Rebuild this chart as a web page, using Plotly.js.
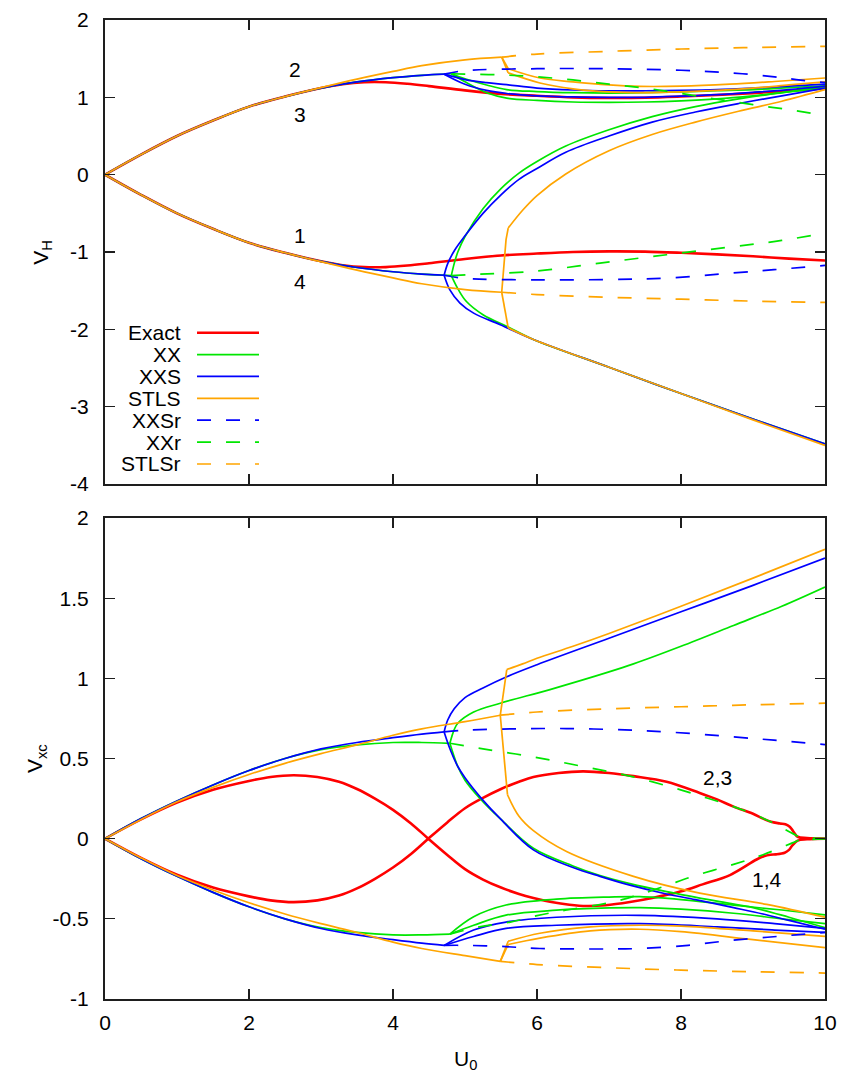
<!DOCTYPE html>
<html>
<head>
<meta charset="utf-8">
<script src="https://cdn.plot.ly/plotly-3.0.1.min.js"></script>
<style>html,body{margin:0;padding:0;background:#fff}</style>
</head>
<body>
<div id="chart" style="width:849px;height:1076px"></div>
<script>
// ---------- tick positions and labels ----------
const X_TICKS = [0, 2, 4, 6, 8, 10];
const X_TICK_TEXT = ['0', '2', '4', '6', '8', '10'];
const VH_TICKS = [-4, -3, -2, -1, 0, 1, 2];
const VH_TICK_TEXT = ['-4', '-3', '-2', '-1', '0', '1', '2'];
const VXC_TICKS = [-1, -0.5, 0, 0.5, 1, 1.5, 2];
const VXC_TICK_TEXT = ['-1', '-0.5', '0', '0.5', '1', '1.5', '2'];

// ---------- Hartree potential V_H ----------
const vhExactU  = [0,0.5,1,1.5,2,2.5,3,3.3,3.6,3.9,4.2,4.5,5,5.5,6,6.5,7,7.5,8,8.5,9,9.5,10];
const vhExactHi = [0,0.26,0.50,0.70,0.88,1.01,1.12,1.17,1.195,1.195,1.175,1.145,1.09,1.045,1.02,1.0,0.992,0.995,1.01,1.03,1.055,1.085,1.115];
const vhExactLo = [0,-0.26,-0.50,-0.70,-0.88,-1.01,-1.12,-1.17,-1.195,-1.195,-1.175,-1.145,-1.09,-1.045,-1.02,-1.0,-0.992,-0.995,-1.01,-1.03,-1.055,-1.085,-1.11];

const vhXXPreU  = [0,0.5,1,1.5,2,2.5,3,3.5,4,4.4,4.81];
const vhXXPreHi = [0,0.26,0.50,0.70,0.88,1.01,1.12,1.20,1.255,1.285,1.305];
const vhXXPreLo = [0,-0.26,-0.50,-0.70,-0.88,-1.01,-1.12,-1.20,-1.255,-1.285,-1.305];
const vhXXAU = [4.81,5.0,5.3,5.58,6,6.5,7,7.5,8,8.5,9,9.5,10];
const vhXXAV = [1.305,1.24,1.16,1.10,1.075,1.06,1.055,1.06,1.07,1.085,1.10,1.125,1.15];
const vhXXBU = [4.81,5.0,5.3,5.58,6,6.5,7,7.5,8,8.5,9,9.5,10];
const vhXXBV = [1.305,1.20,1.06,0.99,0.96,0.94,0.935,0.94,0.955,0.98,1.02,1.07,1.12];
const vhXXCU = [4.81,4.85,4.9,5.0,5.25,5.5,5.75,6.0,6.4,7.0,7.6,8.2,8.8,9.4,10];
const vhXXCV = [-1.305,-1.15,-1.0,-0.80,-0.44,-0.18,0.02,0.17,0.37,0.58,0.75,0.88,0.98,1.06,1.14];
const vhXXDU = [4.81,4.91,5.02,5.25,5.6,5.95,7,8,9,10];
const vhXXDV = [-1.305,-1.49,-1.64,-1.81,-1.97,-2.13,-2.49,-2.83,-3.16,-3.48];

const vhXXSPreU  = [0,0.5,1,1.5,2,2.5,3,3.5,4,4.4,4.71];
const vhXXSPreHi = [0,0.26,0.50,0.70,0.88,1.01,1.12,1.20,1.255,1.285,1.30];
const vhXXSPreLo = [0,-0.26,-0.50,-0.70,-0.88,-1.01,-1.12,-1.20,-1.255,-1.285,-1.30];
const vhXXSAU = [4.71,5.0,5.3,5.58,6,6.5,7,7.5,8,8.5,9,9.5,10];
const vhXXSAV = [1.30,1.23,1.19,1.164,1.12,1.095,1.085,1.085,1.09,1.10,1.12,1.145,1.17];
const vhXXSBU = [4.71,5.0,5.3,5.58,6,6.5,7,7.5,8,8.5,9,9.5,10];
const vhXXSBV = [1.30,1.17,1.09,1.05,1.02,1.005,1.0,1.0,1.015,1.035,1.065,1.10,1.145];
const vhXXSCU = [4.71,4.76,4.86,5.0,5.25,5.5,5.75,6.0,6.4,7.0,7.6,8.2,8.8,9.4,10];
const vhXXSCV = [-1.30,-1.15,-0.97,-0.79,-0.50,-0.26,-0.06,0.08,0.29,0.50,0.68,0.81,0.92,1.02,1.12];
const vhXXSDU = [4.71,4.79,4.93,5.12,5.49,5.95,7,8,9,10];
const vhXXSDV = [-1.30,-1.49,-1.66,-1.79,-1.94,-2.13,-2.49,-2.83,-3.16,-3.48];

const vhSTLSPreU  = [0,0.5,1,1.5,2,2.5,3,3.5,4,4.4,5,5.51];
const vhSTLSPreHi = [0,0.26,0.50,0.70,0.88,1.01,1.125,1.235,1.335,1.41,1.485,1.52];
const vhSTLSPreLo = [0,-0.26,-0.50,-0.70,-0.88,-1.01,-1.125,-1.235,-1.335,-1.41,-1.485,-1.52];
const vhSTLSAU = [5.51,5.60,6.04,6.5,7,7.43,8,8.68,9.3,10];
const vhSTLSAV = [1.52,1.37,1.25,1.20,1.16,1.142,1.145,1.17,1.205,1.25];
const vhSTLSBU = [5.51,5.60,6.04,6.5,7,7.5,8,8.5,9,9.5,10];
const vhSTLSBV = [1.52,1.316,1.186,1.11,1.07,1.06,1.07,1.09,1.12,1.16,1.20];
const vhSTLSCU = [5.51,5.57,5.60,5.8,6.0,6.4,7.0,7.6,8.2,8.8,9.4,10];
const vhSTLSCV = [-1.52,-0.84,-0.69,-0.46,-0.27,0.01,0.31,0.52,0.68,0.82,0.95,1.10];
const vhSTLSDU = [5.51,5.60,5.95,7,8,9,10];
const vhSTLSDV = [-1.52,-1.98,-2.13,-2.49,-2.83,-3.17,-3.50];

const vhXXSrHiU = [4.71,5,6,7,8,8.7,9.3,9.6,10];
const vhXXSrHiV = [1.30,1.345,1.37,1.37,1.35,1.316,1.265,1.23,1.19];
const vhXXSrLoU = [4.71,5,6,7,7.8,8.73,9.4,10];
const vhXXSrLoV = [-1.30,-1.34,-1.36,-1.355,-1.337,-1.27,-1.22,-1.173];
const vhXXrHiU = [4.81,5,5.5,6,6.5,7,7.5,8,8.5,9,9.5,10];
const vhXXrHiV = [1.305,1.30,1.29,1.265,1.225,1.17,1.12,1.05,0.975,0.905,0.84,0.765];
const vhXXrLoU = [4.81,5.02,5.95,6.875,7.8,8.73,9.4,10];
const vhXXrLoV = [-1.305,-1.294,-1.25,-1.143,-1.035,-0.93,-0.85,-0.755];
const vhSTLSrU  = [5.51,6,7,8,9,10];
const vhSTLSrHi = [1.52,1.56,1.595,1.625,1.645,1.66];
const vhSTLSrLo = [-1.52,-1.55,-1.585,-1.61,-1.635,-1.652];

// ---------- exchange-correlation potential V_xc ----------
const vxcExactPU = [0,0.5,1,1.5,2,2.3,2.62,2.95,3.25,3.5,3.75,4,4.25,4.49,4.75,5,5.25,5.5,5.75,5.95,6.2,6.45,6.69,6.95,7.29,7.6,7.99,8.3,8.68,9.05,9.15,9.24,9.32,9.44,9.5,9.55,9.62,9.75,10];
const vxcExactPV = [0,0.12,0.225,0.305,0.36,0.385,0.396,0.385,0.355,0.31,0.25,0.18,0.095,0,-0.10,-0.19,-0.255,-0.305,-0.345,-0.37,-0.395,-0.412,-0.42,-0.415,-0.395,-0.37,-0.33,-0.285,-0.227,-0.13,-0.11,-0.10,-0.098,-0.088,-0.07,-0.04,-0.012,-0.004,0];
const vxcExactQU = [0,0.5,1,1.5,2,2.3,2.62,2.95,3.25,3.5,3.75,4,4.25,4.49,4.75,5,5.23,5.5,5.75,5.95,6.3,6.64,7,7.34,7.8,8.26,8.5,8.73,9.0,9.14,9.25,9.375,9.45,9.51,9.56,9.62,9.75,10];
const vxcExactQV = [0,-0.12,-0.225,-0.305,-0.36,-0.385,-0.396,-0.385,-0.355,-0.31,-0.25,-0.18,-0.095,0,0.10,0.19,0.25,0.31,0.355,0.385,0.41,0.42,0.41,0.39,0.355,0.285,0.245,0.20,0.155,0.125,0.105,0.095,0.09,0.075,0.045,0.012,0.004,0];

const vxcXXPreU  = [0,0.5,1,1.5,2,2.5,3,3.5,4,4.4,4.79];
const vxcXXPreHi = [0,0.125,0.235,0.335,0.425,0.50,0.555,0.585,0.60,0.60,0.595];
const vxcXXPreLo = [0,-0.125,-0.235,-0.335,-0.425,-0.50,-0.555,-0.585,-0.60,-0.60,-0.595];
const vxcXXAU = [4.79,4.85,4.9,5.12,5.49,6.18,7,7.34,8,8.73,9.4,10];
const vxcXXAV = [0.595,0.68,0.72,0.79,0.845,0.93,1.04,1.09,1.20,1.33,1.45,1.57];
const vxcXXBU = [4.79,4.9,5.0,5.21,5.5,5.95,6.5,6.875,7.29,7.8,8.5,9,9.5,10];
const vxcXXBV = [0.595,0.45,0.365,0.25,0.12,-0.06,-0.17,-0.23,-0.28,-0.33,-0.39,-0.43,-0.49,-0.555];
const vxcXXCU = [4.79,5.12,5.57,6.27,7.0,7.43,8.0,8.73,9.4,10];
const vxcXXCV = [-0.595,-0.487,-0.414,-0.377,-0.364,-0.362,-0.38,-0.415,-0.445,-0.475];
const vxcXXDU = [4.79,5.12,5.57,6.27,7.0,7.43,8.0,8.73,9.4,10];
const vxcXXDV = [-0.595,-0.54,-0.477,-0.446,-0.432,-0.43,-0.44,-0.465,-0.50,-0.53];

const vxcXXSPreU  = [0,0.5,1,1.5,2,2.5,3,3.5,4,4.4,4.71];
const vxcXXSPreHi = [0,0.125,0.235,0.335,0.425,0.50,0.56,0.60,0.63,0.652,0.666];
const vxcXXSPreLo = [0,-0.125,-0.235,-0.335,-0.425,-0.50,-0.56,-0.60,-0.63,-0.652,-0.666];
const vxcXXSAU = [4.71,4.76,4.85,5.0,5.25,5.58,6,7,8,9,10];
const vxcXXSAV = [0.666,0.74,0.81,0.88,0.94,1.01,1.085,1.25,1.415,1.58,1.75];
const vxcXXSBU = [4.71,4.8,4.9,5.0,5.23,5.5,5.95,6.5,6.875,7.29,7.8,8.2,8.73,9.14,9.5,10];
const vxcXXSBV = [0.666,0.55,0.45,0.38,0.25,0.12,-0.07,-0.18,-0.235,-0.29,-0.345,-0.38,-0.43,-0.47,-0.51,-0.565];
const vxcXXSCU = [4.71,5.12,5.57,6.27,7.43,8.5,9.3,10];
const vxcXXSCV = [-0.666,-0.57,-0.52,-0.49,-0.478,-0.50,-0.53,-0.56];
const vxcXXSDU = [4.71,5.12,5.57,6.27,7.43,8.5,9.3,10];
const vxcXXSDV = [-0.666,-0.61,-0.56,-0.54,-0.53,-0.55,-0.57,-0.585];

const vxcSTLSPreU  = [0,0.5,1,1.5,2,2.5,3,3.5,4,4.4,5,5.49];
const vxcSTLSPreHi = [0,0.12,0.23,0.32,0.40,0.47,0.53,0.585,0.645,0.685,0.73,0.77];
const vxcSTLSPreLo = [0,-0.12,-0.23,-0.32,-0.40,-0.47,-0.53,-0.585,-0.645,-0.685,-0.73,-0.765];
const vxcSTLSAU = [5.49,5.58,5.8,6,6.5,7,8,9,10];
const vxcSTLSAV = [0.77,1.055,1.09,1.125,1.20,1.28,1.45,1.625,1.805];
const vxcSTLSBU = [5.49,5.59,5.75,5.95,6.41,7.34,8.26,9.19,10];
const vxcSTLSBV = [0.77,0.274,0.14,0.05,-0.08,-0.235,-0.34,-0.41,-0.49];
const vxcSTLSCU = [5.49,5.6,6.04,6.74,7.43,8,9,10];
const vxcSTLSCV = [-0.765,-0.64,-0.59,-0.55,-0.54,-0.545,-0.575,-0.61];
const vxcSTLSDU = [5.49,5.6,6.04,6.74,7.43,8,9,10];
const vxcSTLSDV = [-0.765,-0.66,-0.62,-0.575,-0.565,-0.58,-0.63,-0.68];

const vxcXXSrHiU = [4.71,5.02,5.7,6.41,7.1,7.8,8.73,9.4,10];
const vxcXXSrHiV = [0.666,0.677,0.685,0.687,0.68,0.666,0.635,0.61,0.587];
const vxcXXSrLoU = [4.71,4.93,5.5,6.04,6.8,7.43,8.1,8.68,9.2,9.6,10];
const vxcXXSrLoV = [-0.666,-0.665,-0.672,-0.685,-0.688,-0.685,-0.665,-0.635,-0.615,-0.60,-0.585];
const vxcXXrHiU = [4.79,5.25,5.95,6.64,7.34,8.03,8.35,8.73,9.2,9.56,9.7,10];
const vxcXXrHiV = [0.595,0.56,0.51,0.45,0.385,0.30,0.255,0.20,0.115,0.03,0,0];
const vxcXXrLoU = [4.79,5.2,5.63,6,6.41,7,7.34,7.75,8.2,8.73,9.14,9.6,9.7,10];
const vxcXXrLoV = [-0.595,-0.55,-0.52,-0.48,-0.445,-0.40,-0.36,-0.30,-0.23,-0.16,-0.10,-0.017,0,0];
const vxcSTLSrU  = [5.49,6,7,8,9,10];
const vxcSTLSrHi = [0.77,0.79,0.81,0.823,0.835,0.845];
const vxcSTLSrLo = [-0.765,-0.785,-0.805,-0.82,-0.83,-0.838];

// ---------- styles ----------
const STYLE = {
  Exact: {color: '#ff0000', width: 2.6, dash: 'solid'},
  XX:    {color: '#00e600', width: 1.7, dash: 'solid'},
  XXS:   {color: '#0000ff', width: 1.7, dash: 'solid'},
  STLS:  {color: '#ffa500', width: 1.7, dash: 'solid'},
  XXSr:  {color: '#0000ff', width: 1.7, dash: '14px,15px'},
  XXr:   {color: '#00e600', width: 1.7, dash: '14px,15px'},
  STLSr: {color: '#ffa500', width: 1.7, dash: '14px,15px'}
};
const LEGEND_ORDER = ['Exact', 'XX', 'XXS', 'STLS', 'XXSr', 'XXr', 'STLSr'];

function lineTrace(u, v, method, panel, shape) {
  const s = STYLE[method];
  return {
    type: 'scatter', mode: 'lines', x: u, y: v,
    xaxis: panel === 1 ? 'x' : 'x2', yaxis: panel === 1 ? 'y' : 'y2',
    line: {color: s.color, width: s.width, dash: s.dash, shape: shape, smoothing: 1},
    hoverinfo: 'skip', showlegend: false
  };
}

// A branch is smooth apart from an optional abrupt jump over its first `jump` steps,
// which is drawn straight so the smoothing does not round it off.
const traces = [];
function curve(u, v, method, panel, jump) {
  if (jump) {
    traces.push(lineTrace(u.slice(0, jump + 1), v.slice(0, jump + 1), method, panel, 'linear'));
    traces.push(lineTrace(u.slice(jump), v.slice(jump), method, panel, 'spline'));
  } else {
    traces.push(lineTrace(u, v, method, panel, 'spline'));
  }
}

// V_H panel
curve(vhExactU, vhExactHi, 'Exact', 1);
curve(vhExactU, vhExactLo, 'Exact', 1);
curve(vhXXPreU, vhXXPreHi, 'XX', 1);
curve(vhXXPreU, vhXXPreLo, 'XX', 1);
curve(vhXXAU, vhXXAV, 'XX', 1);
curve(vhXXBU, vhXXBV, 'XX', 1);
curve(vhXXCU, vhXXCV, 'XX', 1);
curve(vhXXDU, vhXXDV, 'XX', 1);
curve(vhXXSPreU, vhXXSPreHi, 'XXS', 1);
curve(vhXXSPreU, vhXXSPreLo, 'XXS', 1);
curve(vhXXSAU, vhXXSAV, 'XXS', 1);
curve(vhXXSBU, vhXXSBV, 'XXS', 1);
curve(vhXXSCU, vhXXSCV, 'XXS', 1);
curve(vhXXSDU, vhXXSDV, 'XXS', 1);
curve(vhSTLSPreU, vhSTLSPreHi, 'STLS', 1);
curve(vhSTLSPreU, vhSTLSPreLo, 'STLS', 1);
curve(vhSTLSAU, vhSTLSAV, 'STLS', 1, 1);
curve(vhSTLSBU, vhSTLSBV, 'STLS', 1, 1);
curve(vhSTLSCU, vhSTLSCV, 'STLS', 1, 2);
curve(vhSTLSDU, vhSTLSDV, 'STLS', 1, 1);
curve(vhXXSrHiU, vhXXSrHiV, 'XXSr', 1);
curve(vhXXSrLoU, vhXXSrLoV, 'XXSr', 1);
curve(vhXXrHiU, vhXXrHiV, 'XXr', 1);
curve(vhXXrLoU, vhXXrLoV, 'XXr', 1);
curve(vhSTLSrU, vhSTLSrHi, 'STLSr', 1);
curve(vhSTLSrU, vhSTLSrLo, 'STLSr', 1);
// V_xc panel
curve(vxcExactPU, vxcExactPV, 'Exact', 2);
curve(vxcExactQU, vxcExactQV, 'Exact', 2);
curve(vxcXXPreU, vxcXXPreHi, 'XX', 2);
curve(vxcXXPreU, vxcXXPreLo, 'XX', 2);
curve(vxcXXAU, vxcXXAV, 'XX', 2);
curve(vxcXXBU, vxcXXBV, 'XX', 2);
curve(vxcXXCU, vxcXXCV, 'XX', 2);
curve(vxcXXDU, vxcXXDV, 'XX', 2);
curve(vxcXXSPreU, vxcXXSPreHi, 'XXS', 2);
curve(vxcXXSPreU, vxcXXSPreLo, 'XXS', 2);
curve(vxcXXSAU, vxcXXSAV, 'XXS', 2);
curve(vxcXXSBU, vxcXXSBV, 'XXS', 2);
curve(vxcXXSCU, vxcXXSCV, 'XXS', 2);
curve(vxcXXSDU, vxcXXSDV, 'XXS', 2);
curve(vxcSTLSPreU, vxcSTLSPreHi, 'STLS', 2);
curve(vxcSTLSPreU, vxcSTLSPreLo, 'STLS', 2);
curve(vxcSTLSAU, vxcSTLSAV, 'STLS', 2, 1);
curve(vxcSTLSBU, vxcSTLSBV, 'STLS', 2, 1);
curve(vxcSTLSCU, vxcSTLSCV, 'STLS', 2, 1);
curve(vxcSTLSDU, vxcSTLSDV, 'STLS', 2, 1);
curve(vxcXXSrHiU, vxcXXSrHiV, 'XXSr', 2);
curve(vxcXXSrLoU, vxcXXSrLoV, 'XXSr', 2);
curve(vxcXXrHiU, vxcXXrHiV, 'XXr', 2);
curve(vxcXXrLoU, vxcXXrLoV, 'XXr', 2);
curve(vxcSTLSrU, vxcSTLSrHi, 'STLSr', 2);
curve(vxcSTLSrU, vxcSTLSrLo, 'STLSr', 2);

// ---------- layout ----------
const FONT = 'Liberation Sans, Arial, Helvetica, sans-serif';
const FRAME = '#1e1e1e';
const axisBase = {
  showline: true, linecolor: FRAME, linewidth: 2, mirror: 'ticks',
  ticks: 'inside', ticklen: 10, tickwidth: 1.3, tickcolor: FRAME,
  showgrid: false, zeroline: false, fixedrange: true,
  tickfont: {family: FONT, size: 21, color: '#000'}
};

const annotations = [];
const shapes = [];

// curve index labels
function label(text, x, y, panel) {
  annotations.push({
    text: text, x: x, y: y, xref: panel === 1 ? 'x' : 'x2', yref: panel === 1 ? 'y' : 'y2',
    showarrow: false, xanchor: 'center', yanchor: 'middle',
    font: {family: FONT, size: 21, color: '#000'}
  });
}
label('2', 2.64, 1.36, 1);
label('3', 2.71, 0.78, 1);
label('1', 2.71, -0.78, 1);
label('4', 2.71, -1.38, 1);
label('2,3', 8.5, 0.38, 2);
label('1,4', 9.19, -0.256, 2);

// axis titles
annotations.push({text: 'V<sub>H</sub>', xref: 'paper', yref: 'paper', x: -0.088, y: 0.763,
  textangle: -90, showarrow: false, xanchor: 'center', yanchor: 'middle',
  font: {family: FONT, size: 21, color: '#000'}});
annotations.push({text: 'V<sub>xc</sub>', xref: 'paper', yref: 'paper', x: -0.095, y: 0.2457,
  textangle: -90, showarrow: false, xanchor: 'center', yanchor: 'middle',
  font: {family: FONT, size: 21, color: '#000'}});
annotations.push({text: 'U<sub>0</sub>', xref: 'paper', yref: 'paper', x: 0.5, y: -0.062,
  showarrow: false, xanchor: 'center', yanchor: 'middle',
  font: {family: FONT, size: 21, color: '#000'}});

// key inside the V_H panel: name on the left, line sample on the right
const KEY_TEXT_X = 0.1083, KEY_X0 = 0.1278, KEY_X1 = 0.2139;
const KEY_TOP = 0.6806, KEY_STEP = 0.02235;
LEGEND_ORDER.forEach((m, i) => {
  const y = KEY_TOP - i * KEY_STEP;
  const s = STYLE[m];
  annotations.push({text: m, xref: 'paper', yref: 'paper', x: KEY_TEXT_X, y: y,
    showarrow: false, xanchor: 'right', yanchor: 'middle',
    font: {family: FONT, size: 21, color: '#000'}});
  shapes.push({type: 'line', xref: 'paper', yref: 'paper', x0: KEY_X0, x1: KEY_X1, y0: y, y1: y,
    line: {color: s.color, width: s.width, dash: s.dash}});
});

const layout = {
  width: 849, height: 1076,
  margin: {l: 105, r: 24, t: 20, b: 77},
  paper_bgcolor: '#ffffff', plot_bgcolor: '#ffffff',
  showlegend: false,
  font: {family: FONT, size: 21, color: '#000'},
  xaxis: Object.assign({}, axisBase, {domain: [0, 1], anchor: 'y', range: [0, 10],
    tickvals: X_TICKS, ticktext: X_TICK_TEXT, showticklabels: false}),
  yaxis: Object.assign({}, axisBase, {domain: [0.526, 1], anchor: 'x', range: [-4, 2],
    tickvals: VH_TICKS, ticktext: VH_TICK_TEXT, ticklabelstandoff: 10}),
  xaxis2: Object.assign({}, axisBase, {domain: [0, 1], anchor: 'y2', range: [0, 10],
    tickvals: X_TICKS, ticktext: X_TICK_TEXT, ticklabelstandoff: 4}),
  yaxis2: Object.assign({}, axisBase, {domain: [0, 0.4913], anchor: 'x2', range: [-1, 2],
    tickvals: VXC_TICKS, ticktext: VXC_TICK_TEXT, ticklabelstandoff: 10}),
  annotations: annotations,
  shapes: shapes
};

Plotly.newPlot('chart', traces, layout, {staticPlot: true, displayModeBar: false});
</script>
</body>
</html>
